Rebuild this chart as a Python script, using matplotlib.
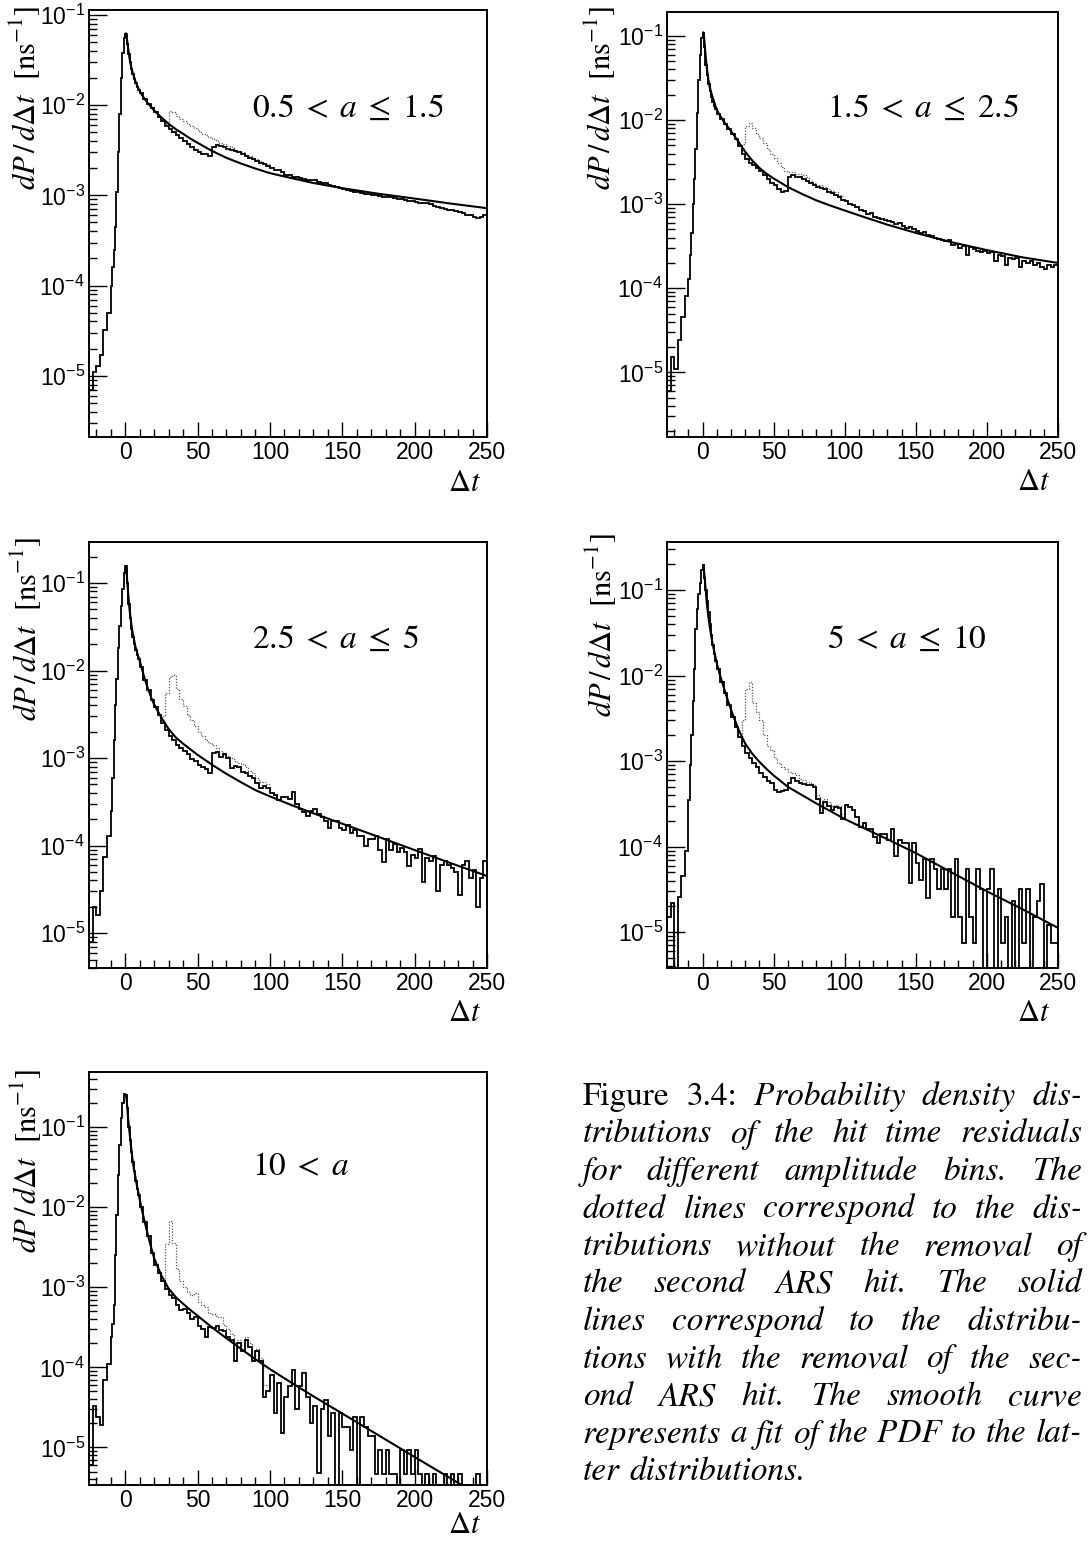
import numpy as np
import matplotlib
matplotlib.use("Agg")
import matplotlib.pyplot as plt
from matplotlib.ticker import LogLocator, MultipleLocator, FuncFormatter, NullFormatter

# ---------------- data ----------------
# bin edges: 2.5 ns bins below -10, 1 ns bins from -10 to 10, 2.5 ns bins above 10
EDGES = np.concatenate([np.arange(-25, -10, 2.5), np.arange(-10, 10, 1.0),
                        np.arange(10, 250.01, 2.5)])
# dotted histograms (without second-hit removal) differ from solid only here
DOT_EDGES = np.arange(22.5, 100.01, 2.5)
# sample points of the fitted PDF
FIT_T = [0.5, 1, 1.5, 2, 3, 4, 5, 6, 7, 8, 10, 12, 15, 18, 20, 25, 30, 35, 40, 45, 50,
         60, 70, 80, 90, 100, 115, 130, 150, 175, 200, 225, 250]

LABELS = [r"$0.5 \;<\; a \;\leq\; 1.5$", r"$1.5 \;<\; a \;\leq\; 2.5$",
          r"$2.5 \;<\; a \;\leq\; 5$", r"$5 \;<\; a \;\leq\; 10$", r"$10 \;<\; a$"]

p1_solid = [7e-6, 1.1e-5, 1.3e-5, 1.7e-5, 3.2e-5, 5.0e-5,
            1.0e-4, 1.6e-4, 2.5e-4, 4.5e-4, 1.1e-3, 3.0e-3, 8.0e-3, 2.0e-2, 3.8e-2, 5.5e-2,
            6.2e-2, 4.8e-2, 3.7e-2, 3.0e-2, 2.5e-2, 2.2e-2, 1.95e-2, 1.75e-2, 1.58e-2, 1.45e-2,
            0.0135, 0.0118, 0.0104, 0.0093, 0.0083, 0.0074, 0.0066, 0.0059,
            0.0054, 0.0050, 0.0046, 0.0043, 0.0040, 0.0037, 0.0034, 0.0032,
            0.0030, 0.0029, 0.0029, 0.0027, 0.0034, 0.0036, 0.0035, 0.0034,
            0.0033, 0.0032, 0.0031, 0.0030, 0.0029, 0.0027, 0.0026, 0.0025,
            0.0024, 0.0023, 0.0022, 0.0021, 0.0020, 0.0019, 0.0019, 0.0018,
            0.0017, 0.0017, 0.0016, 0.00158, 0.00155, 0.0015, 0.00148, 0.00146,
            0.00148, 0.00142, 0.00138, 0.00136, 0.00130, 0.00126, 0.00124, 0.00122,
            0.00118, 0.00114, 0.00112, 0.00110, 0.00108, 0.00106, 0.00104, 0.00103,
            0.00102, 0.00100, 0.00099, 0.00097, 0.00096, 0.00095, 0.00094, 0.00092,
            0.00090, 0.00088, 0.00087, 0.00086, 0.00084, 0.00083, 0.00082, 0.00082,
            0.00080, 0.00076, 0.00075, 0.00073, 0.00071, 0.00069, 0.00068, 0.00067,
            0.00065, 0.00063, 0.00061, 0.00060, 0.00058, 0.00056, 0.00057, 0.00061]
p1_dotted = [0.0074, 0.0066, 0.0062, 0.0086, 0.0084, 0.0076, 0.0070, 0.0066,
             0.0062, 0.0058, 0.0055, 0.0051, 0.0048, 0.0046, 0.0044, 0.0042,
             0.0040, 0.0038, 0.0037, 0.0035, 0.0034, 0.0032, 0.0031, 0.0030,
             0.0028, 0.0027, 0.0026, 0.0025, 0.0024, 0.0023, 0.0022]
p1_fit = [0.062, 0.057, 0.050, 0.043, 0.033, 0.027, 0.0235, 0.0207, 0.0185, 0.0168,
          0.0143, 0.0126, 0.0108, 0.0095, 0.0087, 0.0073, 0.0062, 0.0054, 0.0048, 0.00425,
          0.00382, 0.0031, 0.0026, 0.00225, 0.00198, 0.00176, 0.00155, 0.00137, 0.00120,
          0.00104, 0.00092, 0.00081, 0.00072]

p2_solid = [6e-6, 1.5e-5, 1.1e-5, 2.4e-5, 4.5e-5, 8e-5,
            1.3e-4, 2.5e-4, 4.5e-4, 1.0e-3, 2.0e-3, 4.5e-3, 1.2e-2, 3.0e-2, 6.0e-2, 9.5e-2,
            0.11, 0.075, 0.045, 0.034, 0.027, 0.022, 0.019, 0.0165, 0.0148, 0.0134,
            0.0118, 0.0102, 0.0089, 0.0079, 0.0068, 0.0059, 0.0049, 0.0040,
            0.0034, 0.0031, 0.0029, 0.0027, 0.0025, 0.0022, 0.0020, 0.0018,
            0.0017, 0.0015, 0.0014, 0.00145, 0.0021, 0.0022, 0.0021, 0.0021,
            0.0020, 0.0019, 0.0018, 0.0017, 0.0016, 0.00155, 0.0015, 0.0014,
            0.00135, 0.00130, 0.00122, 0.00112, 0.00110, 0.00100, 0.00098, 0.00092,
            0.00086, 0.00082, 0.00076, 0.00078, 0.00071, 0.00068, 0.00066, 0.00064,
            0.00063, 0.00061, 0.00058, 0.00060, 0.00055, 0.00052, 0.00054, 0.00050,
            0.00048, 0.00046, 0.00047, 0.00043, 0.00042, 0.00040, 0.00039, 0.00037,
            0.00036, 0.00037, 0.00033, 0.00034, 0.00030, 0.00032, 0.00025, 0.00031,
            0.00029, 0.00028, 0.00027, 0.00028, 0.00026, 0.00027, 0.00021, 0.00025,
            0.00024, 0.00019, 0.00023, 0.00022, 0.00023, 0.00018, 0.00021, 0.00020,
            0.00021, 0.00019, 0.00020, 0.00018, 0.00017, 0.00019, 0.00018, 0.00019]
p2_dotted = [0.0059, 0.0049, 0.0052, 0.0085, 0.0093, 0.0080, 0.0068, 0.0061,
             0.0053, 0.0045, 0.0039, 0.0035, 0.0031, 0.0028, 0.0025, 0.0024,
             0.0024, 0.0023, 0.0023, 0.0022, 0.0021, 0.0019, 0.0018, 0.0017,
             0.0017, 0.0016, 0.0015, 0.00145, 0.0014, 0.0013, 0.00125]
p2_fit = [0.11, 0.10, 0.080, 0.062, 0.042, 0.031, 0.025, 0.0215, 0.019, 0.0167,
          0.0132, 0.0115, 0.0096, 0.0082, 0.0074, 0.0056, 0.0042, 0.0033, 0.0027, 0.0023,
          0.00202, 0.0016, 0.00132, 0.00111, 0.00096, 0.00084, 0.00069, 0.00057,
          0.000455, 0.000353, 0.000284, 0.000233, 0.000200]

p3_solid = [8e-6, 2.0e-5, 1.6e-5, 3.0e-5, 7.5e-5, 1.3e-4,
            2.5e-4, 6e-4, 1.6e-3, 4e-3, 8e-3, 1.8e-2, 3.2e-2, 5.5e-2, 8.5e-2, 0.13,
            0.155, 0.10, 0.058, 0.040, 0.030, 0.024, 0.020, 0.017, 0.0152, 0.0135,
            0.0110, 0.0078, 0.0060, 0.0046, 0.0038, 0.0031, 0.0025, 0.0021,
            0.0018, 0.0016, 0.0014, 0.0013, 0.0012, 0.00112, 0.00098, 0.00093,
            0.00084, 0.00080, 0.00076, 0.00067, 0.00115, 0.00118, 0.00104, 0.00112,
            0.00100, 0.00078, 0.00082, 0.00080, 0.00070, 0.00068, 0.00062, 0.00060,
            0.00052, 0.00045, 0.00048, 0.00046, 0.00040, 0.00038, 0.00033, 0.00036,
            0.00036, 0.00034, 0.00041, 0.00030, 0.00026, 0.00024, 0.00022, 0.00025,
            0.00026, 0.00023, 0.00021, 0.00019, 0.00016, 0.00019, 0.00019, 0.00016,
            0.00015, 0.00017, 0.00014, 0.00015, 0.00013, 0.00013, 0.00010, 0.00012,
            0.00012, 0.00013, 0.00009, 0.000065, 0.00012, 0.00009, 0.000105, 0.000085,
            0.000095, 0.000085, 0.000058, 0.000078, 0.000072, 0.000092, 0.000038, 0.000072,
            0.000066, 0.000076, 0.00003, 0.00006, 0.000066, 0.00006, 0.000055, 0.00005,
            0.000027, 0.00006, 0.000066, 0.000043, 0.000052, 0.00002, 0.000043, 0.000066]
p3_dotted = [0.0031, 0.0030, 0.0055, 0.0085, 0.0088, 0.0062, 0.0047, 0.0039,
             0.0031, 0.0027, 0.0023, 0.0020, 0.0018, 0.0016, 0.0015, 0.0014,
             0.0013, 0.0012, 0.0011, 0.00105, 0.0010, 0.00092, 0.00088, 0.00086,
             0.00080, 0.00072, 0.00068, 0.00060, 0.00053, 0.00054, 0.00050]
p3_fit = [0.15, 0.13, 0.10, 0.078, 0.050, 0.036, 0.028, 0.023, 0.019, 0.0165,
          0.0130, 0.0098, 0.0067, 0.0049, 0.0041, 0.0029, 0.00215, 0.00172, 0.00146,
          0.00126, 0.00109, 0.00084, 0.00066, 0.00053, 0.00043, 0.000365, 0.00029,
          0.000234, 0.000178, 0.000126, 0.000089, 0.000063, 0.000045]

p4_solid = [1.5e-5, 2.2e-5, 0.0, 2.6e-5, 4.5e-5, 9e-5,
            3.5e-4, 9e-4, 2.0e-3, 5e-3, 1.2e-2, 3.5e-2, 6e-2, 9e-2, 0.12, 0.17,
            0.195, 0.14, 0.10, 0.075, 0.055, 0.040, 0.030, 0.023, 0.018, 0.0150,
            0.0120, 0.0085, 0.0062, 0.0045, 0.0033, 0.0025, 0.0019, 0.0015,
            0.00125, 0.00108, 0.00095, 0.00086, 0.00072, 0.00066, 0.00058, 0.00055,
            0.00046, 0.00044, 0.00045, 0.00046, 0.00055, 0.00063, 0.00058, 0.00055,
            0.00054, 0.00052, 0.00053, 0.00050, 0.00036, 0.00025, 0.00033, 0.00030,
            0.00027, 0.00029, 0.00028, 0.00021, 0.00031, 0.00029, 0.00027, 0.00022,
            0.00017, 0.00019, 0.00016, 0.00016, 0.00013, 0.00011, 0.00014, 0.00014,
            0.00012, 0.00016, 0.000078, 0.00012, 0.00011, 0.00011, 0.000038, 0.00011,
            0.000065, 0.000041, 0.000071, 0.000025, 0.000071, 0.000054, 0.000032, 0.000054,
            0.000032, 0.000054, 0.000015, 0.000071, 0.000015, 0.0000074, 0.000054, 0.000015,
            0.0000074, 0.000054, 0.000032, 0.0, 0.000032, 0.000054, 0.0, 0.000032,
            0.0000074, 0.000015, 0.0, 0.000023, 0.0, 0.000032, 0.0000074, 0.000032,
            0.0, 0.000015, 0.000023, 0.000037, 0.0, 0.000012, 0.0000074, 0.0000074]
p4_dotted = [0.0025, 0.0019, 0.0030, 0.0070, 0.0085, 0.0048, 0.0038, 0.0030,
             0.0020, 0.0015, 0.00135, 0.0011, 0.00095, 0.00085, 0.00080, 0.00075,
             0.00072, 0.00068, 0.00062, 0.00060, 0.00057, 0.00056, 0.00052, 0.00040,
             0.00030, 0.00036, 0.00033, 0.00030, 0.00031, 0.00030, 0.00024]
p4_fit = [0.195, 0.17, 0.14, 0.11, 0.070, 0.050, 0.038, 0.030, 0.024, 0.020,
          0.0140, 0.0105, 0.0072, 0.0050, 0.0040, 0.0024, 0.0016, 0.00122, 0.00098,
          0.00081, 0.00068, 0.00050, 0.00040, 0.00032, 0.00026, 0.00021, 0.000160,
          0.000122, 0.000084, 0.000050, 0.000030, 0.0000185, 0.0000112]

p5_solid = [6e-6, 3.3e-5, 2.4e-5, 1.9e-5, 7e-5, 1.1e-4,
            2.4e-4, 3.5e-4, 6e-4, 2.5e-3, 8e-3, 2.5e-2, 6.0e-2, 0.13, 0.20, 0.26,
            0.25, 0.17, 0.10, 0.068, 0.048, 0.036, 0.028, 0.021, 0.017, 0.0140,
            0.0100, 0.0065, 0.0043, 0.0027, 0.0019, 0.0015, 0.0012, 0.00095,
            0.00080, 0.00074, 0.00060, 0.00052, 0.00054, 0.00048, 0.00040, 0.00042,
            0.00033, 0.00030, 0.00024, 0.00032, 0.00031, 0.00033, 0.00029, 0.00028,
            0.00024, 0.00022, 0.00012, 0.00020, 0.00016, 0.00022, 0.00018, 0.00012,
            0.00016, 0.00012, 0.000043, 0.00005, 0.00008, 0.000027, 0.000064, 0.000015,
            0.000043, 0.000058, 0.000093, 0.00003, 0.000058, 0.000085, 0.000043, 0.00002,
            0.000033, 0.0000048, 0.00003, 0.000039, 0.0000137, 0.000027, 0.0, 0.000027,
            0.000018, 0.000018, 0.0000094, 0.000024, 0.0, 0.000024, 0.000018, 0.0000137,
            0.0000137, 0.0000046, 0.0000094, 0.0000046, 0.0000094, 0.0000046, 0.0000046, 0.0,
            0.0000094, 0.0000046, 0.0000094, 0.0000046, 0.0000094, 0.0000046, 0.0, 0.0000046,
            0.0, 0.0000046, 0.0, 0.0, 0.0000046, 0.0, 0.0000046, 0.0,
            0.0000046, 0.0, 0.0, 0.0, 0.0, 0.0000046, 0.0, 0.0]
p5_dotted = [0.0015, 0.0012, 0.0035, 0.0066, 0.0036, 0.0017, 0.0012, 0.0010,
             0.00086, 0.00080, 0.00084, 0.00066, 0.00060, 0.00056, 0.00048, 0.00046,
             0.00043, 0.00042, 0.00034, 0.00030, 0.00026, 0.00020, 0.00022, 0.00019,
             0.00024, 0.00020, 0.00014, 0.00017, 0.00013, 0.00006, 0.00006]
p5_fit = [0.25, 0.22, 0.17, 0.13, 0.085, 0.058, 0.040, 0.030, 0.024, 0.019,
          0.0125, 0.0085, 0.0050, 0.0031, 0.0023, 0.0014, 0.00096, 0.00075, 0.00062,
          0.00052, 0.00044, 0.000315, 0.00023, 0.00017, 0.000126, 0.000095, 0.000064,
          0.0000435, 0.0000265, 0.0000142, 0.0000076, 0.0000041, 0.0000022]

SOLIDS = [p1_solid, p2_solid, p3_solid, p4_solid, p5_solid]
DOTTEDS = [p1_dotted, p2_dotted, p3_dotted, p4_dotted, p5_dotted]
FITS = [p1_fit, p2_fit, p3_fit, p4_fit, p5_fit]
YLIMS = [(2.1e-6, 0.113), (1.7e-6, 0.193), (4.0e-6, 0.294), (3.8e-6, 0.366), (3.4e-6, 0.484)]

CAPTION_LINES = [
    "Figure 3.4: Probability density dis-",
    "tributions of the hit time residuals",
    "for different amplitude bins. The",
    "dotted lines correspond to the dis-",
    "tributions without the removal of",
    "the second ARS hit. The solid",
    "lines correspond to the distribu-",
    "tions with the removal of the sec-",
    "ond ARS hit. The smooth curve",
    "represents a fit of the PDF to the lat-",
    "ter distributions.",
]

# ---------------- layout (pixels) ----------------
W, H = 1090, 1563
AX_BOX = [(89, 10, 487, 437), (667, 12, 1058, 437),
          (89, 542, 487, 968), (667, 542, 1058, 968),
          (89, 1072, 487, 1485)]
YLAB_POS = [(25, 6), (600, 6), (26, 537), (601, 533), (26, 1069)]
XLAB_POS = [(481, 491), (1050, 490), (481, 1021), (1050, 1021), (481, 1533)]
ANN_POS = [(252, 117), (827, 117), (252, 648), (827, 648), (252, 1175)]

plt.rcParams["font.family"] = ["Liberation Sans", "DejaVu Sans"]
fig = plt.figure(figsize=(W / 100, H / 100), dpi=100)


def fx(x):
    return x / W


def fy(y):
    return 1 - y / H


def expfmt(v, pos):
    return r"$\mathregular{10^{%d}}$" % int(round(np.log10(v)))


for i in range(5):
    l, t, r, b = AX_BOX[i]
    ax = fig.add_axes([fx(l), fy(b), (r - l) / W, (b - t) / H])
    ax.set_yscale("log", nonpositive="clip")
    ax.stairs(DOTTEDS[i], DOT_EDGES, baseline=None, color="#555555", lw=0.9,
              linestyle=(0, (1.0, 1.3)))
    ax.stairs(SOLIDS[i], EDGES, baseline=None, color="black", lw=1.3)
    ax.plot(FIT_T, FITS[i], color="black", lw=1.5)
    ax.set_xlim(-25, 250)
    ax.set_ylim(*YLIMS[i])
    ax.xaxis.set_major_locator(MultipleLocator(50))
    ax.xaxis.set_minor_locator(MultipleLocator(10))
    ax.yaxis.set_major_locator(LogLocator(base=10, numticks=20))
    ax.yaxis.set_minor_locator(LogLocator(base=10, subs=np.arange(2, 10), numticks=20))
    ax.yaxis.set_minor_formatter(NullFormatter())
    ax.yaxis.set_major_formatter(FuncFormatter(expfmt))
    ax.tick_params(axis="both", which="both", direction="in", top=False, right=False,
                   width=1.0)
    ax.tick_params(axis="y", which="major", length=13, labelsize=16.5, pad=3)
    ax.tick_params(axis="y", which="minor", length=6)
    ax.tick_params(axis="x", which="major", length=10.5, labelsize=16.5, pad=3)
    ax.tick_params(axis="x", which="minor", length=5.5)
    for s in ax.spines.values():
        s.set_linewidth(1.4)

    yx, yy = YLAB_POS[i]
    fig.text(fx(yx), fy(yy), r"$dP\,/\,d\Delta t\ \ [\mathrm{ns}^{-1}]$", rotation=90,
             ha="center", va="top", fontsize=22, math_fontfamily="stix")
    xx, xy = XLAB_POS[i]
    fig.text(fx(xx), fy(xy), r"$\Delta t$", ha="right", va="baseline", fontsize=22,
             math_fontfamily="stix")
    axx, axy = ANN_POS[i]
    fig.text(fx(axx), fy(axy), LABELS[i], ha="left", va="baseline", fontsize=24,
             math_fontfamily="stix")

# ---------------- justified caption ----------------
CAP_L, CAP_R = 583, 1082
CAP_BASE0, CAP_STEP = 1105, 37.5
CAP_FAMILY = "STIXGeneral"
MIN_GAP_EM = 0.27
fig.canvas.draw()
renderer = fig.canvas.get_renderer()


def word_style(i, j):
    return "normal" if (i == 0 and j < 2) else "italic"


# choose the largest font size for which every justified line still fits
probe = 10.0
best = 24.0
for i, line in enumerate(CAPTION_LINES[:-1]):
    words = line.split(" ")
    tot = 0.0
    for j, w in enumerate(words):
        tt = fig.text(0, 0, w, fontsize=probe, family=CAP_FAMILY, style=word_style(i, j))
        tot += tt.get_window_extent(renderer).width
        tt.remove()
    per_pt = tot / probe + (len(words) - 1) * MIN_GAP_EM * 100 / 72
    best = min(best, (CAP_R - CAP_L) / per_pt)
CAP_FS = best

for i, line in enumerate(CAPTION_LINES):
    words = line.split(" ")
    y = fy(CAP_BASE0 + CAP_STEP * i)
    arts = []
    for j, w in enumerate(words):
        arts.append(fig.text(0, y, w, fontsize=CAP_FS, family=CAP_FAMILY,
                             style=word_style(i, j), ha="left", va="baseline"))
    widths = [a.get_window_extent(renderer).width for a in arts]
    if i < len(CAPTION_LINES) - 1 and len(words) > 1:
        gap = (CAP_R - CAP_L - sum(widths)) / (len(words) - 1)
    else:
        gap = CAP_FS * 100 / 72 * 0.3
    x = CAP_L
    for a, wd in zip(arts, widths):
        a.set_x(fx(x))
        x += wd + gap

fig.savefig("out.png", dpi=100)
